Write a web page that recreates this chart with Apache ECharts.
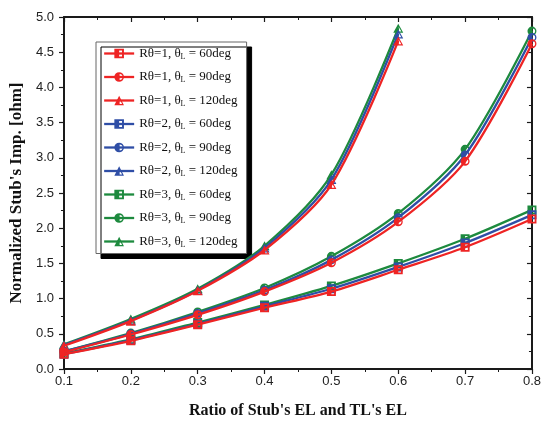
<!DOCTYPE html>
<html><head><meta charset="utf-8">
<script src="https://cdn.jsdelivr.net/npm/echarts@6/dist/echarts.min.js"></script>
<style>html,body{margin:0;padding:0;background:#fff}#c{width:544px;height:426px}</style>
</head><body><div id="c"></div>
<script>
// x values (ratio of stub EL to TL EL)
const xValues = [0.1, 0.2, 0.3, 0.4, 0.5, 0.6, 0.7, 0.8];
const xValues120 = [0.1, 0.2, 0.3, 0.4, 0.5, 0.6];

// Series values (normalized stub impedance)
const r1_60  = [0.21, 0.40, 0.63, 0.87, 1.10, 1.41, 1.73, 2.13];
const r1_90  = [0.24, 0.49, 0.77, 1.10, 1.51, 2.09, 2.95, 4.62];
const r1_120 = [0.33, 0.68, 1.11, 1.69, 2.62, 4.66];
const r2_60  = [0.21, 0.41, 0.64, 0.89, 1.14, 1.45, 1.79, 2.19];
const r2_90  = [0.25, 0.50, 0.79, 1.12, 1.55, 2.15, 3.04, 4.71];
const r2_120 = [0.34, 0.69, 1.12, 1.72, 2.69, 4.76];
const r3_60  = [0.22, 0.42, 0.66, 0.91, 1.18, 1.50, 1.85, 2.26];
const r3_90  = [0.25, 0.51, 0.81, 1.15, 1.60, 2.21, 3.12, 4.80];
const r3_120 = [0.35, 0.71, 1.14, 1.75, 2.76, 4.84];

const seriesNames = [
  'Rθ=1, θL = 60deg', 'Rθ=1, θL = 90deg', 'Rθ=1, θL = 120deg',
  'Rθ=2, θL = 60deg', 'Rθ=2, θL = 90deg', 'Rθ=2, θL = 120deg',
  'Rθ=3, θL = 60deg', 'Rθ=3, θL = 90deg', 'Rθ=3, θL = 120deg'
];
const seriesValues = [r1_60, r1_90, r1_120, r2_60, r2_90, r2_120, r3_60, r3_90, r3_120];

const colors = { 1: '#ee2424', 2: '#2f4ea6', 3: '#1d8a3e' };
const symSquare = 'path://M0,0L10,0L10,10L0,10ZM5,2L5,8L8,8L8,2Z';
const symCircle = 'path://M5,0A5,5 0 1 1 5,10A5,5 0 1 1 5,0ZM5.5,2L5.5,8A3,3 0 0 0 5.5,2Z';
const symTri = 'path://M5,0L10,10L0,10ZM5.5,3.6L5.5,8.6L8.1,8.6Z';
const syms = [symSquare, symCircle, symTri];

const series = seriesNames.map((name, i) => {
  const group = Math.floor(i / 3) + 1;
  const kind = i % 3;
  const xs = kind === 2 ? xValues120 : xValues;
  const vals = seriesValues[i];
  return {
    name: name,
    type: 'line',
    smooth: 0.3,
    data: vals.map((v, j) => [xs[j], v]),
    symbol: syms[kind],
    symbolSize: kind === 2 ? [10, 9] : 9,
    showAllSymbol: true,
    z: 10 - group,
    color: colors[group],
    lineStyle: { width: 2.3, color: colors[group] },
    itemStyle: { color: colors[group], borderWidth: 0 }
  };
});

const axisLine = { show: true, onZero: false, lineStyle: { color: '#1a1a1a', width: 2 } };
const labelStyle = { fontFamily: 'Liberation Sans', fontSize: 13, color: '#222' };

const chart = echarts.init(document.getElementById('c'), null, { renderer: 'canvas' });
chart.setOption({
  animation: false,
  backgroundColor: '#fff',
  grid: { left: 63, right: 7, top: 17, bottom: 57, containLabel: false },
  legend: {
    orient: 'vertical',
    left: 96, top: 42,
    padding: [5, 9, 5, 7],
    itemWidth: 30, itemHeight: 12, itemGap: 10,
    backgroundColor: '#fff',
    borderColor: '#666', borderWidth: 1,
    shadowColor: '#000', shadowBlur: 0, shadowOffsetX: 5, shadowOffsetY: 5,
    lineStyle: { width: 2.3 },
    data: seriesNames,
    formatter: n => n.replace('θL', 'θ{sub|L}'),
    textStyle: {
      fontFamily: 'Liberation Serif', fontSize: 13, color: '#111',
      rich: { sub: { fontFamily: 'Liberation Serif', fontSize: 8, color: '#111', verticalAlign: 'bottom', padding: [6, 0, 0, 0] } }
    }
  },
  xAxis: [{
    type: 'value', min: 0.1, max: 0.8, interval: 0.1,
    name: "Ratio of Stub's EL and TL's EL",
    nameLocation: 'middle', nameGap: 34,
    nameTextStyle: { fontFamily: 'Liberation Serif', fontWeight: 'bold', fontSize: 16, color: '#111' },
    axisLine: axisLine,
    axisTick: { show: true, inside: false, length: 5, lineStyle: { color: '#1a1a1a', width: 1.2 } },
    minorTick: { show: true, splitNumber: 2, length: 3, lineStyle: { color: '#1a1a1a', width: 1 } },
    splitLine: { show: false },
    axisLabel: Object.assign({ margin: 6, formatter: v => v.toFixed(1) }, labelStyle)
  }, {
    type: 'value', position: 'top', min: 0.1, max: 0.8, interval: 0.1,
    axisLine: axisLine,
    axisTick: { show: true, inside: true, length: 5, lineStyle: { color: '#1a1a1a', width: 1.2 } },
    minorTick: { show: true, splitNumber: 2, length: 3, lineStyle: { color: '#1a1a1a', width: 1 } },
    splitLine: { show: false },
    axisLabel: { show: false }
  }],
  yAxis: [{
    type: 'value', min: 0, max: 5, interval: 0.5,
    name: "Normalized Stub's Imp. [ohm]",
    nameLocation: 'middle', nameGap: 38,
    nameTextStyle: { fontFamily: 'Liberation Serif', fontWeight: 'bold', fontSize: 17, color: '#111' },
    axisLine: axisLine,
    axisTick: { show: true, inside: false, length: 5, lineStyle: { color: '#1a1a1a', width: 1.2 } },
    minorTick: { show: true, splitNumber: 2, length: 3, lineStyle: { color: '#1a1a1a', width: 1 } },
    splitLine: { show: false },
    axisLabel: Object.assign({ margin: 10, formatter: v => v.toFixed(1) }, labelStyle)
  }, {
    type: 'value', position: 'right', min: 0, max: 5, interval: 0.5,
    axisLine: axisLine,
    axisTick: { show: true, inside: true, length: 5, lineStyle: { color: '#1a1a1a', width: 1.2 } },
    minorTick: { show: true, splitNumber: 2, length: 3, lineStyle: { color: '#1a1a1a', width: 1 } },
    splitLine: { show: false },
    axisLabel: { show: false }
  }],
  series: series
});
</script>
</body></html>
